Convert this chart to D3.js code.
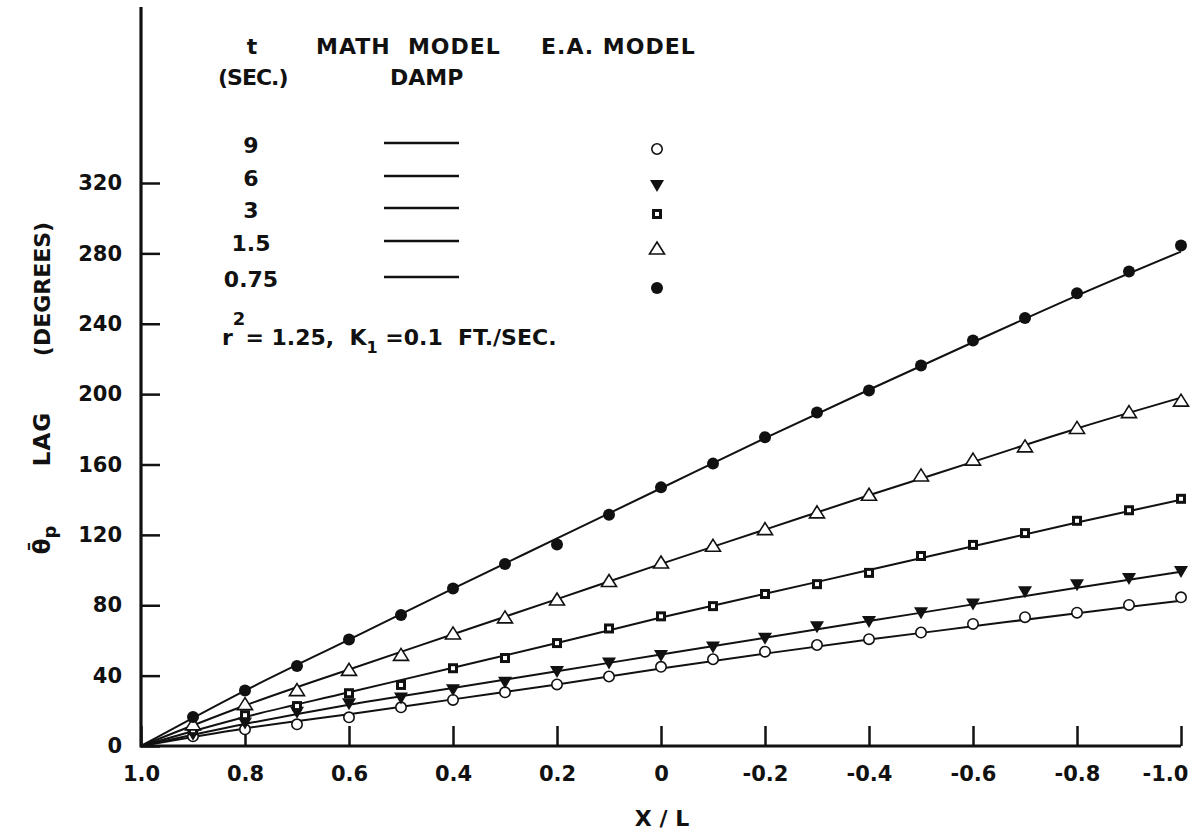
<!DOCTYPE html>
<html>
<head>
<meta charset="utf-8">
<script src="https://cdn.jsdelivr.net/npm/d3@7"></script>
<style>
  html, body { margin: 0; padding: 0; background: #fff; }
  svg { display: block; }
  text { font-family: "DejaVu Sans", "Liberation Sans", sans-serif; font-weight: bold; fill: #111; }
</style>
</head>
<body>
<svg id="chart" width="1201" height="834"></svg>
<script>
// Axis ticks
const xTicks = [1.0, 0.8, 0.6, 0.4, 0.2, 0, -0.2, -0.4, -0.6, -0.8, -1.0];
const xTickLabels = ["1.0", "0.8", "0.6", "0.4", "0.2", "0", "-0.2", "-0.4", "-0.6", "-0.8", "-1.0"];
const yTicks = [0, 40, 80, 120, 160, 200, 240, 280, 320];

// Time constants t (sec.) for each run
const timeLabels = ["9", "6", "3", "1.5", "0.75"];
const markerKinds = ["openCircle", "downTriangle", "square", "openTriangle", "filledCircle"];

// Math model (DAMP) curves, sampled at x/L = 1.0, 0.8, ..., -1.0
const lineX = [1.0, 0.8, 0.6, 0.4, 0.2, 0, -0.2, -0.4, -0.6, -0.8, -1.0];
const line9 = [0, 10, 18, 26.5, 35, 44, 52.5, 60.5, 68, 75.5, 82.5];
const line6 = [0, 12.5, 23.5, 33, 42.5, 52, 61.5, 71, 80.5, 90, 99];
const line3 = [0, 16.5, 30.5, 44.5, 58.5, 73, 86.5, 100, 113.5, 127, 140];
const line15 = [0, 23, 43.5, 63.5, 83.5, 103.5, 123, 142.5, 161.5, 180.5, 198];
const line075 = [0, 31.5, 60.5, 89.5, 118, 146.5, 175, 202.5, 229.5, 256, 281];

// E.A. model measurements at x/L = 0.9, 0.8, ..., -1.0
const pointX = [0.9, 0.8, 0.7, 0.6, 0.5, 0.4, 0.3, 0.2, 0.1, 0, -0.1, -0.2, -0.3, -0.4, -0.5, -0.6, -0.7, -0.8, -0.9, -1.0];
const ea9 = [5.5, 9.5, 12.3, 16.3, 22, 26.2, 30.5, 35, 39.5, 45, 49.3, 53.6, 57.4, 60.7, 64.5, 69.4, 73.2, 75.8, 80.2, 84.5];
const ea6 = [7, 13.3, 19.5, 24.3, 27.5, 32.2, 36.5, 42.6, 47.4, 51.7, 56.5, 61.5, 68, 71, 76, 81, 88, 92, 95.5, 99.5];
const ea3 = [9, 17.5, 22.7, 30, 34.7, 44.2, 50, 58.5, 66.8, 73.7, 79.5, 86.4, 92, 98.4, 108, 114.3, 121, 128, 134, 140.5];
const ea15 = [12, 23.5, 31.5, 43, 51.5, 63.7, 72.8, 83, 93.5, 104, 113.5, 123, 132.5, 142.5, 153.5, 162.5, 170, 180.5, 189.5, 196];
const ea075 = [16.5, 31.6, 45.5, 60.5, 74.5, 89.5, 103.5, 114.5, 131.5, 147, 160.5, 175.5, 189.5, 202, 216.3, 230.5, 243.3, 257.3, 269.7, 284.5];

const mathLines = [line9, line6, line3, line15, line075];
const eaPoints = [ea9, ea6, ea3, ea15, ea075];

const svg = d3.select("#chart");
const ink = "#111";

const x = d3.scaleLinear().domain([1, -1]).range([141, 1181]);
const y = d3.scaleLinear().domain([0, 320]).range([746, 183]);
const yAxisTop = 420;

// Axes with inward ticks
const xAxis = d3.axisBottom(x)
  .tickValues(xTicks)
  .tickFormat((d, i) => xTickLabels[i])
  .tickSize(-20)
  .tickPadding(20);
const gx = svg.append("g").attr("transform", `translate(0,${y(0)})`).call(xAxis);
gx.select(".domain").remove();
gx.selectAll(".tick line").attr("stroke", ink).attr("stroke-width", 2.5);
gx.selectAll(".tick text").style("font-size", "21px").attr("fill", ink)
  .attr("dx", d => (d === -1 ? -16 : 0));

const yAxis = d3.axisLeft(y)
  .tickValues(yTicks)
  .tickSize(-19)
  .tickPadding(19);
const gy = svg.append("g").attr("transform", `translate(${x(1)},0)`).call(yAxis);
gy.select(".domain").remove();
gy.selectAll(".tick line").attr("stroke", ink).attr("stroke-width", 2.5);
gy.selectAll(".tick text").style("font-size", "21px").attr("fill", ink);

// Axis lines
svg.append("line")
  .attr("x1", x(1)).attr("x2", x(-1))
  .attr("y1", y(0)).attr("y2", y(0))
  .attr("stroke", ink).attr("stroke-width", 3);
svg.append("line")
  .attr("x1", x(1)).attr("x2", x(1))
  .attr("y1", y(0) + 1.5).attr("y2", y(yAxisTop))
  .attr("stroke", ink).attr("stroke-width", 3.2);

// Math model curves
const lineGen = d3.line()
  .x((d, i) => x(lineX[i]))
  .y(d => y(d))
  .curve(d3.curveCatmullRom);
mathLines.forEach(vals => {
  svg.append("path")
    .datum(vals)
    .attr("d", lineGen)
    .attr("fill", "none")
    .attr("stroke", ink)
    .attr("stroke-width", 2);
});

// Marker drawing
function drawMarker(g, kind, cx, cy) {
  switch (kind) {
    case "openCircle":
      g.append("circle").attr("cx", cx).attr("cy", cy).attr("r", 5.2)
        .attr("fill", "#fff").attr("stroke", ink).attr("stroke-width", 1.6);
      break;
    case "filledCircle":
      g.append("circle").attr("cx", cx).attr("cy", cy).attr("r", 6)
        .attr("fill", ink);
      break;
    case "downTriangle":
      g.append("path")
        .attr("d", `M${cx - 7},${cy - 5} L${cx + 7},${cy - 5} L${cx},${cy + 7} Z`)
        .attr("fill", ink);
      break;
    case "openTriangle":
      g.append("path")
        .attr("d", `M${cx},${cy - 7} L${cx + 7.5},${cy + 5} L${cx - 7.5},${cy + 5} Z`)
        .attr("fill", "#fff").attr("stroke", ink).attr("stroke-width", 1.6);
      break;
    case "square":
      g.append("rect").attr("x", cx - 5).attr("y", cy - 5).attr("width", 10).attr("height", 10)
        .attr("fill", ink);
      g.append("rect").attr("x", cx - 2).attr("y", cy - 2).attr("width", 4).attr("height", 4)
        .attr("fill", "#fff");
      break;
  }
}

const pts = svg.append("g");
eaPoints.forEach((vals, s) => {
  vals.forEach((v, i) => drawMarker(pts, markerKinds[s], x(pointX[i]), y(v)));
});

// Legend
const leg = svg.append("g").style("font-size", "22px");
leg.append("text").attr("x", 252).attr("y", 54).attr("text-anchor", "middle").text("t");
leg.append("text").attr("x", 316).attr("y", 54).attr("xml:space", "preserve")
  .style("letter-spacing", "1px").text("MATH  MODEL");
leg.append("text").attr("x", 541).attr("y", 54)
  .style("letter-spacing", "1px").text("E.A. MODEL");
leg.append("text").attr("x", 218).attr("y", 85).style("letter-spacing", "-1px").text("(SEC.)");
leg.append("text").attr("x", 390).attr("y", 85).text("DAMP");

const rowY = [145, 178, 210, 243, 279];
const markY = [149, 185, 214, 249, 288];
timeLabels.forEach((t, i) => {
  leg.append("text").attr("x", 251).attr("y", rowY[i] + 8).attr("text-anchor", "middle").text(t);
  leg.append("line").attr("x1", 384).attr("x2", 459).attr("y1", rowY[i] - 2).attr("y2", rowY[i] - 2)
    .attr("stroke", ink).attr("stroke-width", 2.6);
  drawMarker(leg, markerKinds[i], 657, markY[i]);
});

// Parameter note
const note = leg.append("text").attr("x", 222).attr("y", 345).attr("xml:space", "preserve");
note.append("tspan").text("r");
note.append("tspan").attr("dy", -20).style("font-size", "18px").text("2");
note.append("tspan").attr("dy", 20).text("= 1.25,  K");
note.append("tspan").attr("dy", 8).style("font-size", "16px").text("1");
note.append("tspan").attr("dy", -8).text(" =0.1  FT./SEC.");

// Axis title (rotated, three word groups spread along the axis)
const titleX = 50;
function yTitle(cy, size, build) {
  const t = svg.append("text")
    .attr("transform", `translate(${titleX},${cy}) rotate(-90)`)
    .attr("text-anchor", "middle")
    .style("font-size", size);
  build(t);
}
yTitle(289, "22px", t => t.text("(DEGREES)"));
yTitle(439, "23px", t => t.style("letter-spacing", "1px").text("LAG"));
yTitle(540, "23px", t => {
  t.append("tspan").text("θ\u0304");
  t.append("tspan").attr("dy", 6).style("font-size", "18px").text("p");
});

svg.append("text")
  .attr("x", 662).attr("y", 826)
  .attr("text-anchor", "middle")
  .attr("xml:space", "preserve")
  .style("font-size", "22px")
  .text("X / L");
</script>
</body>
</html>
